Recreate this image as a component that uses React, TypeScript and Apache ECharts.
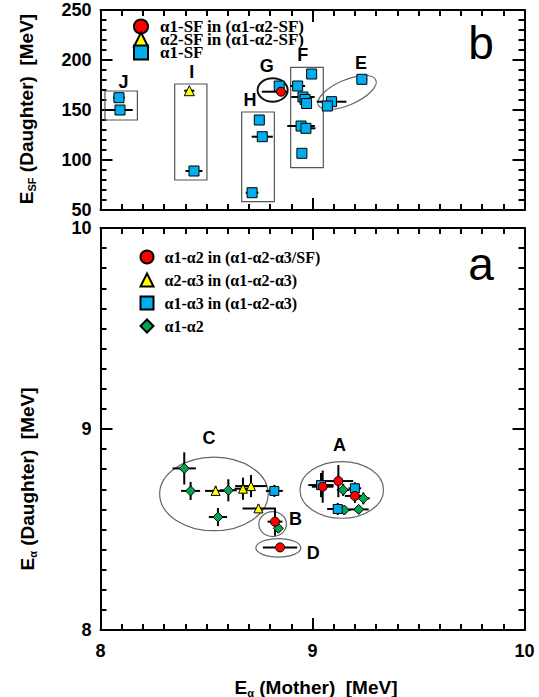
import React, { useEffect, useRef } from "react";
import * as echarts from "echarts";

// ---------------- Panel b (top): E_SF (daughter) vs E_alpha (mother) ----------------
// [E_alpha (MeV), E_SF (MeV), xErrLow, xErrHigh]
const bAlpha1SFinChain = [[8.851, 168.3, 0.09, 0.03]];
const bAlpha2SFinChain = [[8.419, 169.3, 0.024, 0.024]];
const bAlpha1SF = [
  [8.087, 162.3, 0.028, 0.028],
  [8.092, 150.0, 0.07, 0.06],
  [8.441, 89.0, 0.04, 0.04],
  [8.749, 140.0, 0.025, 0.025],
  [8.763, 123.3, 0.05, 0.05],
  [8.715, 67.3, 0.03, 0.03],
  [8.843, 174.0, 0.02, 0.02],
  [8.996, 186.0, 0.02, 0.02],
  [8.93, 174.0, 0.035, 0.035],
  [8.955, 163.0, 0.055, 0.055],
  [8.965, 160.5, 0.02, 0.02],
  [8.972, 156.5, 0.015, 0.015],
  [8.946, 134.0, 0.065, 0.065],
  [8.969, 131.7, 0.045, 0.045],
  [8.95, 106.7, 0.02, 0.02],
  [9.09, 158.3, 0.07, 0.07],
  [9.07, 154.0, 0.02, 0.02],
  [9.233, 180.7, 0.025, 0.025],
];
// boxes [x1, y1, x2, y2]
const bBoxes = [
  [8.021, 140, 8.174, 169],
  [8.35, 80, 8.502, 176],
  [8.666, 58.3, 8.82, 148],
  [8.897, 92.3, 9.051, 192.7],
];
// ellipses [cx, cy, rx, ry, rotationDeg]
const bEllipseG = [[8.812, 170, 0.071, 11.7, 0]];
const bEllipseE = [[9.163, 167.5, 0.148, 12.5, 23.5]];
const bClusterNames = ["J", "I", "H", "G", "F", "E"];
const bClusterPos = [
  [8.108, 178.3],
  [8.43, 188.3],
  [8.705, 160],
  [8.784, 194],
  [8.954, 205],
  [9.229, 196.7],
];

// ---------------- Panel a (bottom): E_alpha (daughter) vs E_alpha (mother) ----------------
// [E_alpha mother, E_alpha daughter, xErr, yErr]
const aAlpha12inChain = [
  [8.823, 8.539, 0.035, 0.07],
  [8.847, 8.411, 0.081, 0.02],
  [9.048, 8.713, 0.051, 0.08],
  [9.122, 8.741, 0.07, 0.08],
  [9.2, 8.667, 0.047, 0.035],
];
const aAlpha23inChain = [
  [8.543, 8.692, 0.05, 0.025],
  [8.672, 8.703, 0.04, 0.055],
  [8.71, 8.716, 0.075, 0.055],
  [8.745, 8.605, 0.075, 0.02],
];
const aAlpha13inChain = [
  [8.82, 8.692, 0.04, 0.03],
  [9.04, 8.721, 0.06, 0.06],
  [9.2, 8.705, 0.03, 0.03],
  [9.119, 8.602, 0.05, 0.03],
];
const aAlpha12 = [
  [8.395, 8.804, 0.055, 0.08],
  [8.425, 8.692, 0.045, 0.045],
  [8.603, 8.695, 0.04, 0.055],
  [8.554, 8.562, 0.043, 0.045],
  [8.839, 8.506, 0.01, 0.01],
  [9.145, 8.697, 0.03, 0.03],
  [9.24, 8.655, 0.03, 0.03],
  [9.15, 8.597, 0.03, 0.02],
  [9.218, 8.6, 0.047, 0.02],
];
const aEllipses = [
  [8.535, 8.677, 0.256, 0.183, 0],
  [8.812, 8.527, 0.065, 0.062, 0],
  [8.839, 8.409, 0.106, 0.046, 0],
  [9.138, 8.697, 0.197, 0.141, 0],
];
const aClusterNames = ["C", "A", "B", "D"];
const aClusterPos = [
  [8.512, 8.954],
  [9.127, 8.92],
  [8.92, 8.552],
  [9.004, 8.382],
];

const xTicks = [8, 9, 10];
const bYRange = [50, 250];
const aYRange = [8, 10];

const SANS = '"Liberation Sans", Arial, sans-serif';
const SERIF = '"Liberation Serif", "Times New Roman", serif';

const BLUE = "#00AEEF";
const RED = "#FF0000";
const YELLOW = "#FFFF00";
const GREEN = "#00A651";

function errFromAsym(d: number[][]) {
  return d.map((p) => [p[0], p[1], p[2], p[3], 0, 0]);
}
function errFromSym(d: number[][]) {
  return d.map((p) => [p[0], p[1], p[2], p[2], p[3], p[3]]);
}

const errRender = (params: any, api: any) => {
  const x = api.value(0);
  const y = api.value(1);
  const xl = api.value(2);
  const xh = api.value(3);
  const yl = api.value(4);
  const yh = api.value(5);
  const style = { stroke: "#000", lineWidth: 2 };
  const children: any[] = [];
  if (xl > 0 || xh > 0) {
    const a = api.coord([x - xl, y]);
    const b = api.coord([x + xh, y]);
    children.push({ type: "line", shape: { x1: a[0], y1: a[1], x2: b[0], y2: b[1] }, style });
  }
  if (yl > 0 || yh > 0) {
    const a = api.coord([x, y - yl]);
    const b = api.coord([x, y + yh]);
    children.push({ type: "line", shape: { x1: a[0], y1: a[1], x2: b[0], y2: b[1] }, style });
  }
  return { type: "group", children };
};

const ellipseRender = (stroke: string, width: number) => (params: any, api: any) => {
  const c = api.coord([api.value(0), api.value(1)]);
  const s = api.size([api.value(2), api.value(3)]);
  return {
    type: "ellipse",
    x: c[0],
    y: c[1],
    rotation: (api.value(4) * Math.PI) / 180,
    shape: { cx: 0, cy: 0, rx: s[0], ry: s[1] },
    style: { fill: "none", stroke, lineWidth: width },
  };
};

const boxRender = (params: any, api: any) => {
  const p1 = api.coord([api.value(0), api.value(3)]);
  const p2 = api.coord([api.value(2), api.value(1)]);
  return {
    type: "rect",
    shape: { x: p1[0], y: p1[1], width: p2[0] - p1[0], height: p2[1] - p1[1] },
    style: { fill: "none", stroke: "#555", lineWidth: 1.2 },
  };
};

const labelRender = (names: string[]) => (params: any, api: any) => {
  const c = api.coord([api.value(0), api.value(1)]);
  return {
    type: "text",
    x: c[0],
    y: c[1],
    style: {
      text: names[params.dataIndex],
      fill: "#000",
      font: `bold 18px ${SANS}`,
      align: "center",
      verticalAlign: "middle",
    },
  };
};

function xAxisDef(gridIndex: number, position: string, showLabels: boolean) {
  return {
    type: "value",
    gridIndex,
    position,
    min: xTicks[0],
    max: xTicks[xTicks.length - 1],
    interval: 1,
    axisLine: { show: true, onZero: false, lineStyle: { color: "#000", width: 2 } },
    axisTick: { show: true, inside: true, length: 12, lineStyle: { color: "#000", width: 2 } },
    minorTick: { show: true, splitNumber: 10, length: 6, lineStyle: { color: "#000", width: 2 } },
    splitLine: { show: false },
    axisLabel: {
      show: showLabels,
      margin: 12,
      color: "#000",
      fontFamily: SANS,
      fontWeight: "bold",
      fontSize: 18,
    },
  };
}

function yAxisDef(gridIndex: number, position: string, range: number[], interval: number, minorSplit: number, showLabels: boolean) {
  return {
    type: "value",
    gridIndex,
    position,
    min: range[0],
    max: range[1],
    interval,
    axisLine: { show: true, onZero: false, lineStyle: { color: "#000", width: 2 } },
    axisTick: { show: true, inside: true, length: 12, lineStyle: { color: "#000", width: 2 } },
    minorTick: { show: true, splitNumber: minorSplit, length: 6, lineStyle: { color: "#000", width: 2 } },
    splitLine: { show: false },
    axisLabel: {
      show: showLabels,
      margin: 9,
      color: "#000",
      fontFamily: SANS,
      fontWeight: "bold",
      fontSize: 18,
      lineHeight: 16,
    },
  };
}

const nameRich = {
  m: { fontFamily: SANS, fontWeight: "bold", fontSize: 19, lineHeight: 22, verticalAlign: "middle", fill: "#000", color: "#000" },
  s: { fontFamily: SANS, fontWeight: "bold", fontSize: 11, lineHeight: 11, verticalAlign: "bottom", fill: "#000", color: "#000" },
};

export default function App() {
  const ref = useRef<HTMLDivElement>(null);
  useEffect(() => {
    if (!ref.current) return;
    const chart = echarts.init(ref.current, undefined, { renderer: "svg" });
    const scatterBase = (name: string, data: number[][], xi: number, symbol: string, size: number, color: string) => ({
      name,
      type: "scatter",
      xAxisIndex: xi,
      yAxisIndex: xi,
      data: data.map((p) => [p[0], p[1]]),
      symbol,
      symbolSize: size,
      itemStyle: { color, borderColor: "#000", borderWidth: 1, opacity: 1 },
      z: 5,
      silent: true,
    });
    const custom = (data: any[], xi: number, renderItem: any, z: number, dims: number) => ({
      type: "custom",
      xAxisIndex: xi,
      yAxisIndex: xi,
      data,
      renderItem,
      dimensions: Array.from({ length: dims }, (_, i) => "d" + i),
      encode: { x: 0, y: 1 },
      z,
      silent: true,
    });
    chart.setOption({
      animation: false,
      backgroundColor: "#fff",
      grid: [
        { left: 100.5, top: 10, width: 424, height: 200 },
        { left: 100.5, top: 228, width: 424, height: 402 },
      ],
      xAxis: [
        xAxisDef(0, "bottom", false),
        xAxisDef(0, "top", false),
        xAxisDef(1, "bottom", true),
        xAxisDef(1, "top", false),
      ],
      yAxis: [
        yAxisDef(0, "left", bYRange, 50, 5, true),
        yAxisDef(0, "right", bYRange, 50, 5, false),
        yAxisDef(1, "left", aYRange, 1, 10, true),
        yAxisDef(1, "right", aYRange, 1, 10, false),
      ],
      legend: [
        {
          data: ["α1-SF in (α1-α2-SF)", "α2-SF in (α1-α2-SF)", "α1-SF"],
          orient: "vertical",
          left: 128,
          top: 13,
          itemWidth: 14,
          itemHeight: 14,
          itemGap: -4,
          selectedMode: false,
          textStyle: { fontFamily: SERIF, fontWeight: "bold", fontSize: 17, color: "#000", lineHeight: 15, padding: [0, 0, 0, 7] },
        },
        {
          data: ["α1-α2 in (α1-α2-α3/SF)", "α2-α3 in (α1-α2-α3)", "α1-α3 in (α1-α2-α3)", "α1-α2"],
          orient: "vertical",
          left: 134.5,
          top: 244,
          itemWidth: 13,
          itemHeight: 13,
          itemGap: 7,
          selectedMode: false,
          textStyle: { fontFamily: SERIF, fontWeight: "bold", fontSize: 16, color: "#000", lineHeight: 16, padding: [0, 0, 0, 6] },
        },
      ],
      series: [
        // panel b
        custom(bBoxes, 0, boxRender, 1, 4),
        custom(bEllipseG, 0, ellipseRender("#111", 2), 1, 5),
        custom(bEllipseE, 0, ellipseRender("#666", 1.2), 1, 5),
        custom(errFromAsym(bAlpha1SF), 0, errRender, 2, 6),
        custom(errFromAsym(bAlpha2SFinChain), 0, errRender, 2, 6),
        custom(errFromAsym(bAlpha1SFinChain), 0, errRender, 2, 6),
        scatterBase("α1-SF", bAlpha1SF, 0, "rect", 10, BLUE),
        scatterBase("α2-SF in (α1-α2-SF)", bAlpha2SFinChain, 0, "triangle", 10, YELLOW),
        scatterBase("α1-SF in (α1-α2-SF)", bAlpha1SFinChain, 0, "circle", 9, RED),
        custom(bClusterPos, 0, labelRender(bClusterNames), 6, 2),
        // panel a
        custom(aEllipses, 2, ellipseRender("#666", 1.2), 1, 5),
        custom(errFromSym(aAlpha12), 2, errRender, 2, 6),
        custom(errFromSym(aAlpha13inChain), 2, errRender, 2, 6),
        custom(errFromSym(aAlpha23inChain), 2, errRender, 2, 6),
        custom(errFromSym(aAlpha12inChain), 2, errRender, 2, 6),
        scatterBase("α1-α2", aAlpha12, 2, "diamond", 10, GREEN),
        scatterBase("α1-α3 in (α1-α2-α3)", aAlpha13inChain, 2, "rect", 9, BLUE),
        scatterBase("α2-α3 in (α1-α2-α3)", aAlpha23inChain, 2, "triangle", 9, YELLOW),
        scatterBase("α1-α2 in (α1-α2-α3/SF)", aAlpha12inChain, 2, "circle", 9, RED),
        custom(aClusterPos, 2, labelRender(aClusterNames), 6, 2),
      ],
      graphic: [
        {
          type: "text",
          x: 481,
          y: 43,
          style: { text: "b", font: `46px ${SANS}`, fill: "#000", align: "center", verticalAlign: "middle" },
        },
        {
          type: "text",
          x: 481,
          y: 264,
          style: { text: "a", font: `46px ${SANS}`, fill: "#000", align: "center", verticalAlign: "middle" },
        },
        {
          type: "text",
          x: 26,
          y: 109,
          rotation: Math.PI / 2,
          style: {
            text: "{m|E}{s|SF}{m| (Daughter)  [MeV]}",
            rich: nameRich,
            align: "center",
            verticalAlign: "middle",
          },
        },
        {
          type: "text",
          x: 27,
          y: 479,
          rotation: Math.PI / 2,
          style: {
            text: "{m|E}{s|α}{m| (Daughter)  [MeV]}",
            rich: nameRich,
            align: "center",
            verticalAlign: "middle",
          },
        },
        {
          type: "text",
          x: 316,
          y: 687,
          style: {
            text: "{m|E}{s|α}{m| (Mother)  [MeV]}",
            rich: nameRich,
            align: "center",
            verticalAlign: "middle",
          },
        },
      ],
    });
    return () => chart.dispose();
  }, []);
  return (
    <div
      ref={ref}
      style={{ position: "absolute", left: 0, top: 0, width: 539, height: 697, background: "#fff" }}
    />
  );
}
